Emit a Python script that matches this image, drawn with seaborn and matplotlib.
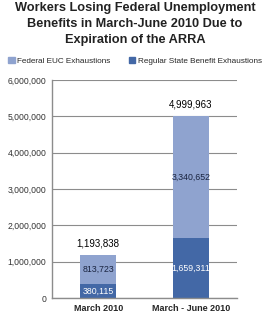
import matplotlib
matplotlib.use("Agg")
import matplotlib.pyplot as plt
from matplotlib.patches import Patch
import seaborn as sns
import pandas as pd

periods = ["March 2010", "March - June 2010"]
federal_euc = [813723, 3340652]
regular_state = [380115, 1659311]
totals = [1193838, 4999963]
y_ticks = [0, 1000000, 2000000, 3000000, 4000000, 5000000, 6000000]

light = "#8FA3CF"
dark = "#4368A6"

sns.set_style("white")
plt.rcParams['font.family'] = ['Liberation Sans', 'DejaVu Sans']

df = pd.DataFrame({"period": periods, "federal": federal_euc,
                   "state": regular_state, "total": totals})

fig = plt.figure(figsize=(2.7, 3.2), dpi=100)
ax = fig.add_axes([52 / 270, 1 - 298 / 320, 185 / 270, 218 / 320])

# stacked: draw totals in light, then state part in dark on top
sns.barplot(data=df, x="period", y="total", color=light, width=0.39,
            saturation=1, linewidth=0, ax=ax)
sns.barplot(data=df, x="period", y="state", color=dark, width=0.39,
            saturation=1, linewidth=0, ax=ax)

ax.set_xlim(-0.5, 1.5)
ax.set_ylim(0, 6000000)
ax.set_yticks(y_ticks)
ax.set_yticklabels([f"{v:,}" for v in y_ticks], fontsize=6.2, color="#333333")
ax.set_xticks(range(len(periods)))
ax.set_xticklabels(periods, fontsize=6.5, fontweight="bold")
ax.set_xlabel("")
ax.set_ylabel("")
ax.tick_params(axis="both", length=0, pad=4)
ax.yaxis.grid(True, color="#8c8c8c", linewidth=0.8)
ax.set_axisbelow(True)
for side in ["top", "right"]:
    ax.spines[side].set_visible(False)
for side in ["left", "bottom"]:
    ax.spines[side].set_color("#8c8c8c")
    ax.spines[side].set_linewidth(1.0)

for i in range(len(periods)):
    ax.text(i, regular_state[i] + federal_euc[i] / 2, f"{federal_euc[i]:,}",
            ha="center", va="center", fontsize=6.3, color="#1a2440")
    ax.text(i, regular_state[i] / 2, f"{regular_state[i]:,}",
            ha="center", va="center", fontsize=6.3, color="white")
    ax.text(i, totals[i] + 180000, f"{totals[i]:,}",
            ha="center", va="bottom", fontsize=7, color="black")

fig.text(0.5, 1 - 2 / 320, "Workers Losing Federal Unemployment\nBenefits in March-June 2010 Due to\nExpiration of the ARRA",
         ha="center", va="top", fontsize=9.2, fontweight="bold",
         linespacing=1.42, color="#222222")

handles = [Patch(color=light, label="Federal EUC Exhaustions"),
           Patch(color=dark, label="Regular State Benefit Exhaustions")]
fig.legend(handles=handles, loc="center", bbox_to_anchor=(0.5, 1 - 61 / 320),
           ncol=2, fontsize=5.9, frameon=False, handlelength=0.8,
           handleheight=0.8, handletextpad=0.3, columnspacing=2.2)

fig.savefig("out.png", dpi=100)
